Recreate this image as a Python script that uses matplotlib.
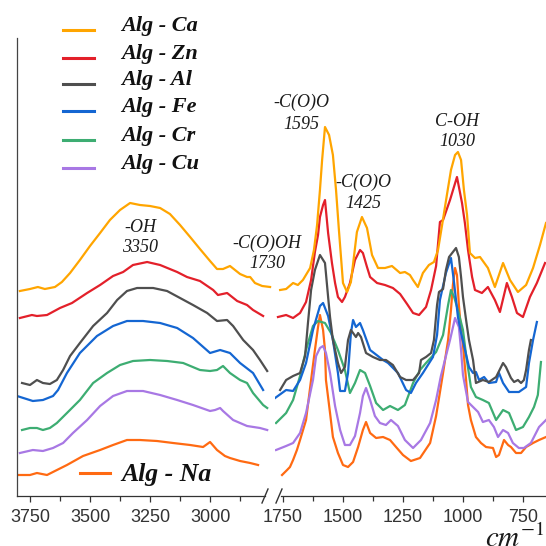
import matplotlib
matplotlib.use('Agg')
import matplotlib.pyplot as plt
from matplotlib.lines import Line2D

# FTIR spectra of alginate gels (stacked, arbitrary units)
# "hi" = 3800-2750 cm-1 window, "lo" = 1780-650 cm-1 window

ca_hi_wn = [3792, 3750, 3717, 3688, 3646, 3617, 3583, 3542, 3500, 3458, 3417, 3375, 3333, 3292, 3250,
            3208, 3167, 3125, 3083, 3042, 3000, 2971, 2946, 2917, 2875, 2846, 2833, 2813, 2783, 2750]
ca_hi = [205, 207, 209, 207, 209, 214, 223, 236, 250, 263, 276, 286, 293, 291, 290,
         288, 282, 271, 259, 247, 235, 227, 227, 230, 222, 219, 219, 213, 210, 209]
ca_lo_wn = [1762, 1737, 1708, 1688, 1667, 1637, 1621, 1608, 1596, 1587, 1575, 1558, 1542, 1529, 1517,
            1500, 1483, 1467, 1442, 1421, 1400, 1379, 1354, 1325, 1296, 1262, 1242, 1221, 1208, 1188,
            1167, 1142, 1121, 1104, 1087, 1067, 1050, 1033, 1021, 1008, 996, 983, 971, 950, 929,
            896, 867, 833, 804, 771, 737, 708, 679, 654]
ca_lo = [206, 207, 213, 211, 216, 228, 246, 271, 306, 336, 369, 361, 341, 306, 266,
         213, 204, 214, 264, 279, 268, 241, 228, 228, 230, 223, 224, 221, 216, 209,
         223, 231, 234, 246, 271, 301, 326, 341, 344, 336, 306, 281, 243, 238, 239,
         228, 209, 233, 216, 204, 211, 228, 251, 273]

zn_hi_wn = [3792, 3742, 3721, 3679, 3625, 3575, 3512, 3458, 3404, 3362, 3321, 3262, 3208, 3137, 3096,
            3042, 2987, 2967, 2929, 2887, 2846, 2821, 2779]
zn_hi = [178, 181, 180, 181, 188, 193, 203, 211, 220, 224, 231, 234, 231, 224, 219,
         215, 206, 201, 203, 195, 191, 186, 180]
zn_lo_wn = [1771, 1737, 1708, 1679, 1654, 1633, 1617, 1604, 1596, 1583, 1575, 1562, 1546, 1533, 1521,
            1504, 1492, 1471, 1450, 1429, 1417, 1400, 1387, 1358, 1325, 1292, 1262, 1233, 1208, 1183,
            1154, 1133, 1112, 1096, 1083, 1054, 1025, 1004, 992, 979, 962, 950, 921, 896, 867,
            846, 817, 796, 775, 750, 721, 692, 658]
zn_lo = [179, 181, 178, 183, 194, 216, 244, 261, 279, 291, 296, 263, 233, 213, 199,
         194, 199, 213, 236, 246, 243, 229, 219, 213, 211, 208, 202, 192, 183, 181,
         189, 206, 230, 274, 276, 296, 319, 293, 273, 246, 219, 206, 203, 209, 196,
         184, 213, 199, 183, 179, 199, 213, 233]

al_hi_wn = [3783, 3750, 3721, 3696, 3667, 3638, 3612, 3583, 3542, 3487, 3429, 3387, 3346, 3304, 3237,
            3179, 3125, 3071, 3012, 2971, 2929, 2904, 2862, 2821, 2792, 2762]
al_hi = [113, 111, 116, 113, 112, 116, 126, 140, 153, 170, 183, 196, 205, 208, 208,
         205, 198, 191, 183, 175, 176, 170, 156, 146, 136, 125]
al_lo_wn = [1762, 1737, 1708, 1679, 1658, 1646, 1633, 1617, 1596, 1575, 1562, 1554, 1542, 1521, 1508,
            1492, 1479, 1467, 1446, 1437, 1425, 1404, 1375, 1346, 1321, 1292, 1262, 1237, 1208, 1183,
            1175, 1154, 1133, 1121, 1108, 1100, 1083, 1071, 1058, 1029, 1017, 1008, 1000, 987, 975,
            958, 946, 917, 892, 862, 833, 821, 800, 787, 771, 758, 746, 737, 725, 717]
al_lo = [106, 116, 120, 123, 140, 173, 206, 226, 241, 233, 199, 179, 156, 133, 123,
         129, 156, 166, 159, 163, 159, 143, 139, 136, 136, 131, 119, 116, 116, 123,
         136, 139, 143, 156, 191, 204, 207, 226, 239, 248, 239, 219, 199, 176, 156,
         136, 113, 116, 114, 119, 133, 129, 118, 114, 116, 113, 116, 126, 146, 156]

fe_hi_wn = [3804, 3738, 3696, 3654, 3633, 3596, 3542, 3471, 3404, 3346, 3279, 3208, 3137, 3071, 3000,
            2958, 2917, 2875, 2821, 2779]
fe_hi = [100, 95, 96, 100, 106, 123, 143, 160, 170, 175, 175, 173, 168, 158, 143,
         146, 143, 133, 123, 106]
fe_lo_wn = [1783, 1737, 1708, 1679, 1654, 1625, 1596, 1583, 1562, 1542, 1521, 1512, 1492, 1479, 1467,
            1458, 1446, 1429, 1417, 1387, 1333, 1312, 1271, 1237, 1217, 1196, 1167, 1125, 1108, 1096,
            1071, 1050, 1037, 1021, 1008, 975, 958, 946, 933, 912, 892, 862, 850, 833, 808,
            767, 737, 725, 708, 692]
fe_lo = [98, 106, 105, 116, 133, 166, 190, 193, 180, 156, 123, 105, 105, 123, 163,
         176, 169, 173, 166, 146, 136, 133, 123, 106, 103, 113, 123, 139, 161, 196,
         223, 238, 213, 179, 163, 129, 123, 124, 116, 119, 113, 114, 123, 113, 104,
         104, 109, 133, 156, 174]

cr_hi_wn = [3783, 3750, 3721, 3696, 3667, 3638, 3596, 3542, 3487, 3429, 3375, 3321, 3250, 3179, 3112,
            3042, 3000, 2971, 2946, 2917, 2875, 2846, 2821, 2779, 2762]
cr_hi = [66, 68, 68, 66, 68, 73, 83, 96, 113, 123, 131, 135, 136, 135, 133,
         126, 125, 126, 130, 123, 116, 113, 103, 91, 88]
cr_lo_wn = [1779, 1737, 1708, 1679, 1654, 1625, 1604, 1575, 1550, 1521, 1492, 1471, 1450, 1429, 1408,
            1387, 1362, 1333, 1304, 1271, 1242, 1208, 1179, 1154, 1112, 1083, 1062, 1050, 1037, 1021,
            1000, 987, 967, 946, 917, 892, 862, 833, 808, 779, 750, 725, 704, 688, 675]
cr_lo = [73, 83, 96, 120, 146, 170, 175, 173, 163, 146, 126, 103, 113, 126, 123,
         110, 93, 86, 90, 86, 91, 113, 126, 133, 144, 161, 191, 206, 199, 186,
         166, 141, 109, 99, 96, 93, 76, 86, 83, 66, 69, 79, 89, 101, 134]

cu_hi_wn = [3792, 3738, 3696, 3654, 3612, 3571, 3512, 3458, 3404, 3346, 3279, 3208, 3137, 3071, 3000,
            2979, 2958, 2946, 2904, 2846, 2792, 2762]
cu_hi = [43, 46, 45, 48, 53, 63, 76, 90, 100, 105, 105, 101, 96, 91, 85,
         86, 88, 85, 76, 70, 68, 66]
cu_lo_wn = [1779, 1737, 1708, 1679, 1654, 1625, 1612, 1596, 1583, 1571, 1554, 1533, 1512, 1492, 1471,
            1450, 1429, 1417, 1404, 1387, 1367, 1346, 1321, 1300, 1271, 1242, 1208, 1175, 1137, 1112,
            1092, 1071, 1054, 1033, 1017, 1008, 1000, 979, 958, 937, 917, 892, 871, 854, 833,
            812, 792, 767, 746, 717, 683, 654]
cu_lo = [46, 50, 53, 63, 83, 116, 140, 148, 150, 143, 123, 90, 66, 51, 51,
         60, 83, 100, 108, 96, 80, 73, 71, 76, 70, 56, 48, 56, 73, 96,
         120, 140, 156, 178, 169, 146, 121, 94, 89, 84, 74, 76, 69, 59, 66,
         63, 53, 48, 48, 53, 69, 76]

na_hi_wn = [3804, 3750, 3721, 3679, 3646, 3596, 3529, 3458, 3404, 3346, 3292, 3221, 3154, 3083, 3029,
            3000, 2971, 2938, 2917, 2875, 2833, 2800]
na_hi = [21, 21, 23, 21, 25, 31, 40, 46, 51, 56, 56, 55, 53, 51, 49,
         54, 46, 40, 38, 35, 33, 31]
na_lo_wn = [1754, 1733, 1721, 1708, 1692, 1679, 1654, 1633, 1617, 1604, 1596, 1583, 1575, 1571, 1554,
            1542, 1521, 1500, 1479, 1458, 1437, 1417, 1404, 1387, 1362, 1333, 1304, 1279, 1250, 1217,
            1179, 1137, 1112, 1083, 1062, 1050, 1042, 1033, 1025, 1017, 1008, 1000, 987, 979, 967,
            946, 925, 904, 875, 862, 850, 829, 812, 800, 779, 758, 737, 708, 683, 654]
na_lo = [21, 26, 29, 36, 46, 56, 76, 116, 146, 169, 181, 166, 146, 116, 83,
         59, 43, 31, 29, 34, 49, 66, 74, 63, 58, 59, 56, 49, 41, 35,
         38, 53, 80, 123, 156, 186, 211, 228, 221, 191, 166, 151, 116, 91, 76,
         59, 53, 49, 48, 39, 41, 56, 51, 49, 43, 43, 49, 53, 56, 59]

labels = ['Alg - Ca', 'Alg - Zn', 'Alg - Al', 'Alg - Fe', 'Alg - Cr', 'Alg - Cu', 'Alg - Na']
colors = ['#FFA500', '#E3202A', '#4F4F4F', '#1466D2', '#3DAD72', '#A878E4', '#FF6A12']
hi_wn = [ca_hi_wn, zn_hi_wn, al_hi_wn, fe_hi_wn, cr_hi_wn, cu_hi_wn, na_hi_wn]
hi_val = [ca_hi, zn_hi, al_hi, fe_hi, cr_hi, cu_hi, na_hi]
lo_wn = [ca_lo_wn, zn_lo_wn, al_lo_wn, fe_lo_wn, cr_lo_wn, cu_lo_wn, na_lo_wn]
lo_val = [ca_lo, zn_lo, al_lo, fe_lo, cr_lo, cu_lo, na_lo]

# band assignments: (group, wavenumber)
bands = [('-OH', '3350'), ('-C(O)OH', '1730'), ('-C(O)O', '1595'), ('-C(O)O', '1425'), ('C-OH', '1030')]

plt.rcParams['mathtext.fontset'] = 'stix'
SERIF = 'Liberation Serif'

W = 546.0
def fx(px):
    return px / W
def fy(py):
    return 1 - py / W

fig = plt.figure(figsize=(5.46, 5.46), dpi=100)
ax1 = fig.add_axes([fx(17), fy(496), fx(272) - fx(17), fy(38) - fy(496)])
ax2 = fig.add_axes([fx(274.6), fy(496), 1 - fx(274.6), fy(38) - fy(496)])

# Alg-Na drawn last (on top) like the original, others in order
for i in [6, 5, 4, 3, 2, 1, 0]:
    ax1.plot(hi_wn[i], hi_val[i], color=colors[i], lw=1.6, solid_joinstyle='round')
    ax2.plot(lo_wn[i], lo_val[i], color=colors[i], lw=1.6, solid_joinstyle='round')

ax1.set_xlim(3804, 2742)
ax2.set_xlim(1785, 654)
ax1.set_xticks([3750, 3500, 3250, 3000])
ax1.set_xticks([3625, 3375, 3125, 2875], minor=True)
ax2.set_xticks([1750, 1500, 1250, 1000, 750])
ax2.set_xticks([1625, 1375, 1125, 875], minor=True)
for ax in (ax1, ax2):
    ax.set_ylim(0, 458)
    ax.set_yticks([])
    ax.spines['top'].set_visible(False)
    ax.spines['right'].set_visible(False)
    ax.spines['bottom'].set_color('#333333')
    ax.spines['bottom'].set_linewidth(0.9)
    ax.tick_params(axis='x', which='major', length=4, width=0.9, color='#333333',
                   labelsize=13, labelcolor='#333333', pad=5)
    ax.tick_params(axis='x', which='minor', length=3.5, width=0.9, color='#333333')
    ax.patch.set_alpha(0)
    for lab in ax.get_xticklabels():
        lab.set_family('Liberation Sans')
ax1.spines['left'].set_color('#444444')
ax1.spines['left'].set_linewidth(0.9)
ax2.spines['left'].set_visible(False)
ax1.spines['bottom'].set_bounds(3804, 2772)
ax2.spines['bottom'].set_bounds(1757, 654)

# axis break marks
for x in (265, 279):
    fig.add_artist(Line2D([fx(x - 3), fx(x + 3)], [fy(503), fy(489)], color='#333333', lw=1.0))

# legend (drawn by hand to follow the original placement)
leg_y = [30, 58, 84, 111, 140, 168]
for name, col, y in zip(labels[:6], colors[:6], leg_y):
    fig.add_artist(Line2D([fx(63), fx(94)], [fy(y), fy(y)], color=col, lw=2.2))
    fig.text(fx(121), fy(y + 1), name, fontsize=16, fontweight='bold', fontstyle='italic',
             family=SERIF, ha='left', va='baseline', color='#111111')
fig.add_artist(Line2D([fx(80), fx(110)], [fy(473), fy(473)], color=colors[6], lw=2.2))
fig.text(fx(121), fy(481), labels[6], fontsize=18.5, fontweight='bold', fontstyle='italic',
         family=SERIF, ha='left', va='baseline', color='#111111')

# band annotations: (x centre, baseline of first line, baseline of second line)
band_pos = [(140, 232, 252), (267, 248, 268), (301, 107, 129), (363, 187, 208), (457, 126, 146)]
for (grp, wn), (x, y1, y2) in zip(bands, band_pos):
    fig.text(fx(x), fy(y1), grp, fontsize=13, fontstyle='italic', family=SERIF,
             ha='center', va='baseline', color='#1a1a1a')
    fig.text(fx(x), fy(y2), wn, fontsize=13, fontstyle='italic', family=SERIF,
             ha='center', va='baseline', color='#1a1a1a')

fig.text(fx(485), fy(547), r'$cm^{-1}$', fontsize=21, ha='left', va='baseline', color='#1a1a1a')

fig.savefig('out.png', dpi=100)
